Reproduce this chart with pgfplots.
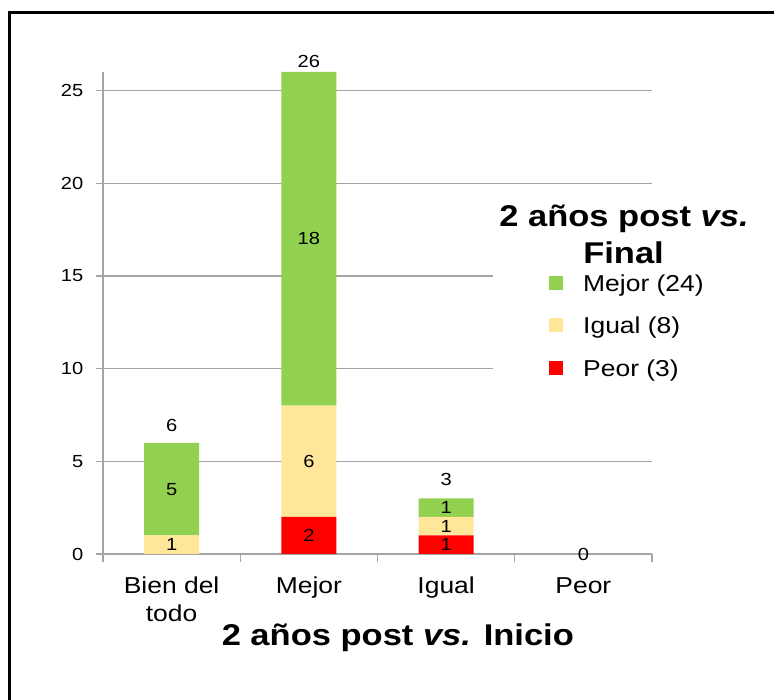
\documentclass[border=0pt]{standalone}
\usepackage{pgfplots}
\pgfplotsset{compat=1.18}
\usepackage{pgfplotstable}
\usepackage{fontspec}
\setmainfont{Liberation Sans}
\definecolor{cgreen}{RGB}{146,208,80}
\definecolor{cyellow}{RGB}{255,230,153}
\definecolor{cred}{RGB}{255,0,0}
\definecolor{cgrid}{RGB}{165,165,165}
\pgfplotstableread{
x peor plab igual ilab mejor mlab
0 0 {} 1 1 5 5
1 2 2 6 6 18 18
2 1 1 1 1 1 1
3 0 {} 0 {} 0 {}
}\datatable
\newcommand{\sx}[1]{\scalebox{1.15}[1]{#1}}
\newcommand{\lblfont}{\fontsize{17.5bp}{21bp}\selectfont}
\begin{document}
\begin{tikzpicture}
\useasboundingbox (0,0) rectangle (774bp,700bp);
\draw[line width=2.7bp, line join=miter] (9.7bp,-5bp) -- (9.7bp,687.2bp) -- (780bp,687.2bp);
\begin{axis}[
  at={(103bp,146bp)}, anchor=south west,
  scale only axis, width=549bp, height=482bp,
  ybar stacked, bar width=55bp,
  xmin=-0.5, xmax=3.5, ymin=0, ymax=26,
  enlargelimits=false, clip=false,
  axis lines*=left,
  axis line style={cgrid, line width=1.2bp},
  /pgf/number format/assume math mode=true,
  ytick={0,5,10,15,20,25},
  yticklabel={\sx{\pgfmathprintnumber{\tick}}},
  ymajorgrids, grid style={cgrid, line width=1.2bp},
  tick align=outside, major tick length=7.5bp,
  tick style={cgrid, line width=1.2bp},
  yticklabel style={font=\fontsize{17.5bp}{20bp}\selectfont, inner sep=0pt, xshift=-12bp},
  xtick={-0.5,0.5,1.5,2.5,3.5}, xticklabels={,,,,,},
  extra x ticks={0,1,2,3},
  extra x tick labels={{\sx{Bien del}\\\sx{todo}},\sx{Mejor},\sx{Igual},\sx{Peor}},
  extra x tick style={major tick length=0pt, grid=none,
    xticklabel style={font=\fontsize{23bp}{28bp}\selectfont, align=center, inner sep=0pt, yshift=-23bp}},
  xlabel={\sx{\textbf{2 años post \textit{vs.} Inicio}}},
  xlabel style={font=\fontsize{30bp}{36bp}\selectfont, at={(axis description cs:0.537,-0.1888)}, anchor=base, inner sep=0pt},
  reverse legend,
  legend cell align=left,
  legend image code/.code={\fill[#1] (0bp,-4.5bp) rectangle (14bp,9.5bp); \path (34bp,0bp);},
  legend style={at={(0.8124,0.581)}, anchor=north west, draw=none, fill=none,
    inner sep=0pt, row sep=20.5bp, column sep=0pt,
    font=\fontsize{23bp}{28bp}\selectfont,
    nodes={inner sep=0pt, text height=17bp, text depth=5bp}},
  every node near coord/.append style={font=\lblfont, anchor=center},
  point meta=explicit symbolic,
  nodes near coords={\sx{\pgfplotspointmeta}},
]
\addplot[fill=cred, draw=none] table[x=x, y=peor, meta=plab]{\datatable};
\addlegendentry{\sx{Peor (3)}}
\addplot[fill=cyellow, draw=none] table[x=x, y=igual, meta=ilab]{\datatable};
\addlegendentry{\sx{Igual (8)}}
\addplot[fill=cgreen, draw=none] table[x=x, y=mejor, meta=mlab]{\datatable};
\addlegendentry{\sx{Mejor (24)}}
\fill[white] (axis description cs:0.710,0.330) rectangle (axis description cs:1.005,0.745);
\node[font=\lblfont, anchor=base] at ([yshift=11bp]axis cs:0,6) {\sx{6}};
\node[font=\lblfont, anchor=base] at ([yshift=4bp]axis cs:1,26) {\sx{26}};
\node[font=\lblfont, anchor=base] at ([yshift=13bp]axis cs:2,3) {\sx{3}};
\node[font=\lblfont, anchor=center] at (axis cs:3,0) {\sx{0}};
\end{axis}
\node[font=\fontsize{30bp}{36bp}\selectfont\bfseries, anchor=base] at (624bp,473.3bp) {\sx{2 años post \textit{vs.}}};
\node[font=\fontsize{30bp}{36bp}\selectfont\bfseries, anchor=base] at (623.5bp,436.7bp) {\sx{Final}};
\end{tikzpicture}
\end{document}
